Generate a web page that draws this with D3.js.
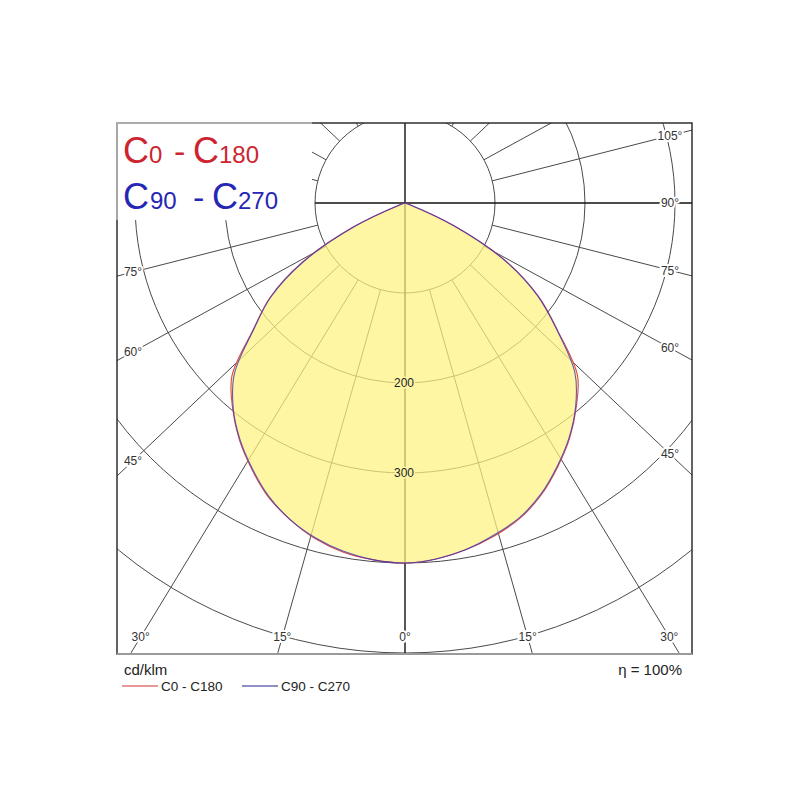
<!DOCTYPE html>
<html>
<head>
<meta charset="utf-8">
<script src="https://cdn.jsdelivr.net/npm/d3@7"></script>
<style>
	body { margin: 0; background: #fff; }
	svg { display: block; font-family: "Liberation Sans", Arial, sans-serif; }
</style>
</head>
<body>
<div id="chart"></div>
<script>
// gamma angles in degrees, 0 = straight down
const gammas = [0, 5, 10, 15, 20, 25, 30, 35, 40, 45, 50, 55, 60, 65, 70, 75, 80, 85, 90];

// luminous intensity in cd/klm for each half plane
const c0   = [400, 397, 391, 383, 373, 358, 339, 319, 296, 271, 222, 181, 130, 60, 5, 0, 0, 0, 0];
const c180 = [400, 398, 394, 386, 374, 360, 341, 321, 298, 272, 221, 183, 132, 64, 7, 0, 0, 0, 0];
const c90  = [400, 397, 391, 382, 372, 357, 338, 318, 295, 267, 221, 180, 129, 60, 5, 0, 0, 0, 0];
const c270 = [400, 398, 393, 385, 374, 359, 340, 320, 297, 268, 220, 182, 130, 62, 6, 0, 0, 0, 0];

// grid
const rings = [100, 200, 300, 400, 500];
const ringLabels = [200, 300];
const spokes = [15, 30, 45, 60, 75, 105, 120, 135, 150, 165];
const rightLabels = [0, 15, 30, 45, 60, 75, 90, 105];
const leftLabels = [15, 30, 45, 60, 75];

(function () {

	'use strict';

	let width = 800, height = 800;
	let frame = {left: 117, top: 123, right: 692, bottom: 654};
	let center = {x: 405, y: 203};
	let labelBox = {left: 133, right: 670, bottom: 637};
	let stretch = 1.055; // spokes in the source image are drawn a bit wide

	let r = d3.scaleLinear().domain([0, 500]).range([0, 450]);
	let rad = d3.scaleLinear().domain([0, 180]).range([0, Math.PI]);

	let svg = d3.select('#chart').append('svg')
		.attr('width', width)
		.attr('height', height);

	svg.append('defs').append('clipPath').attr('id', 'frameClip')
		.append('rect')
		.attr('x', frame.left).attr('y', frame.top)
		.attr('width', frame.right - frame.left)
		.attr('height', frame.bottom - frame.top);

	let clipped = svg.append('g').attr('clip-path', 'url(#frameClip)');
	let plot = clipped.append('g')
		.attr('transform', 'translate(' + center.x + ',' + center.y + ')');

	// unit direction of a spoke, side = 1 right, -1 left
	function spokeDir(deg, side) {
		let a = rad(deg);
		let dx = side * stretch * Math.sin(a);
		let dy = Math.cos(a);
		let n = Math.hypot(dx, dy);
		return [dx / n, dy / n];
	}

	// ****************** grid ***************************

	plot.selectAll('circle.ring')
		.data(rings)
		.enter().append('circle')
		.attr('class', 'ring')
		.attr('r', d => r(d))
		.attr('fill', 'none')
		.attr('stroke', '#4a4a4a')
		.attr('stroke-width', 1);

	let spokeData = [];
	spokes.forEach(function (g) {
		spokeData.push({g: g, side: 1});
		spokeData.push({g: g, side: -1});
	});

	plot.selectAll('line.spoke')
		.data(spokeData)
		.enter().append('line')
		.attr('class', 'spoke')
		.attr('x1', d => spokeDir(d.g, d.side)[0] * r(100))
		.attr('y1', d => spokeDir(d.g, d.side)[1] * r(100))
		.attr('x2', d => spokeDir(d.g, d.side)[0] * 1200)
		.attr('y2', d => spokeDir(d.g, d.side)[1] * 1200)
		.attr('stroke', '#4a4a4a')
		.attr('stroke-width', 1);

	// main axes
	plot.append('line')
		.attr('x1', 0).attr('y1', -1000).attr('x2', 0).attr('y2', 1000)
		.attr('stroke', '#111').attr('stroke-width', 1.4);
	plot.append('line')
		.attr('x1', -r(100)).attr('y1', 0).attr('x2', 1000).attr('y2', 0)
		.attr('stroke', '#111').attr('stroke-width', 1.4);

	// ****************** curves ***************************

	function planePoints(right, left) {
		let pts = [];
		for (let i = gammas.length - 1; i >= 0; i--) {
			pts.push([Math.PI + rad(gammas[i]), r(left[i])]);
		}
		for (let i = 1; i < gammas.length; i++) {
			pts.push([Math.PI - rad(gammas[i]), r(right[i])]);
		}
		return pts;
	}

	let radial = d3.lineRadial()
		.angle(d => d[0])
		.radius(d => d[1])
		.curve(d3.curveCatmullRom.alpha(0.5));

	let redPts = planePoints(c0, c180);
	let bluePts = planePoints(c90, c270);

	plot.append('path')
		.attr('d', radial(redPts) + 'Z')
		.attr('fill', '#fff380')
		.attr('fill-opacity', 0.72);

	plot.append('path')
		.attr('d', radial(redPts))
		.attr('fill', 'none')
		.attr('stroke', '#e04848')
		.attr('stroke-width', 1.1);

	plot.append('path')
		.attr('d', radial(bluePts))
		.attr('fill', 'none')
		.attr('stroke', '#3a3ab8')
		.attr('stroke-opacity', 0.8)
		.attr('stroke-width', 1.1);

	plot.selectAll('text.ringLabel')
		.data(ringLabels)
		.enter().append('text')
		.attr('class', 'ringLabel')
		.attr('x', -1)
		.attr('y', d => r(d))
		.attr('dy', '0.35em')
		.attr('text-anchor', 'middle')
		.attr('font-size', 12)
		.attr('fill', '#222')
		.attr('stroke', '#fff6a6')
		.attr('stroke-width', 3)
		.attr('paint-order', 'stroke')
		.text(d => d);

	// ****************** legend box and frame ***************************

	svg.append('rect')
		.attr('x', frame.left).attr('y', frame.top)
		.attr('width', 195).attr('height', 97)
		.attr('fill', '#fff');

	svg.append('rect')
		.attr('x', frame.left).attr('y', frame.top)
		.attr('width', frame.right - frame.left)
		.attr('height', frame.bottom - frame.top)
		.attr('fill', 'none')
		.attr('stroke', '#222')
		.attr('stroke-width', 1.4);

	svg.append('line')
		.attr('x1', frame.left).attr('y1', frame.bottom)
		.attr('x2', frame.right).attr('y2', frame.bottom)
		.attr('stroke', '#9a9a9a').attr('stroke-width', 2);

	svg.append('path')
		.attr('d', 'M' + frame.left + ',' + (frame.top + 97) + 'V' + frame.top + 'H' + (frame.left + 195))
		.attr('fill', 'none')
		.attr('stroke', '#c4c4c4')
		.attr('stroke-width', 1.4);

	// ****************** angle labels ***************************

	function labelPos(deg, side) {
		let d = spokeDir(deg, side);
		let lim = (side > 0 ? labelBox.right : labelBox.left) - center.x;
		let t = d[0] !== 0 ? lim / d[0] : Infinity;
		if (d[1] > 0) t = Math.min(t, (labelBox.bottom - center.y) / d[1]);
		return [center.x + d[0] * t, center.y + d[1] * t];
	}

	let angleLabels = rightLabels.map(g => ({g: g, side: 1}))
		.concat(leftLabels.map(g => ({g: g, side: -1})));

	svg.selectAll('text.angle')
		.data(angleLabels)
		.enter().append('text')
		.attr('class', 'angle')
		.attr('x', d => labelPos(d.g, d.side)[0])
		.attr('y', d => labelPos(d.g, d.side)[1])
		.attr('dy', '0.35em')
		.attr('text-anchor', 'middle')
		.attr('font-size', 12)
		.attr('fill', '#333')
		.attr('stroke', '#fff')
		.attr('stroke-width', 4)
		.attr('paint-order', 'stroke')
		.text(d => d.g + '\u00b0');

	// ****************** titles ***************************

	let titles = [
		{y: 163, color: '#cc2530', parts: [['C', 36, 123], ['0', 24, 149], ['-', 34, 174], ['C', 36, 193], ['180', 24, 219]]},
		{y: 209, color: '#2626b4', parts: [['C', 36, 123], ['90', 24, 150], ['-', 34, 193], ['C', 36, 212], ['270', 24, 238]]}
	];

	titles.forEach(function (t) {
		let txt = svg.append('text').attr('y', t.y).attr('fill', t.color);
		t.parts.forEach(function (p) {
			txt.append('tspan')
				.attr('x', p[2])
				.attr('font-size', p[1])
				.text(p[0]);
		});
	});

	// ****************** bottom legend ***************************

	svg.append('text')
		.attr('x', 124).attr('y', 675)
		.attr('font-size', 15).attr('fill', '#222')
		.text('cd/klm');

	svg.append('text')
		.attr('x', 682).attr('y', 675)
		.attr('text-anchor', 'end')
		.attr('font-size', 15).attr('fill', '#222')
		.text('\u03b7 = 100%');

	let keys = [
		{label: 'C0 - C180', color: '#d43030', x: 122},
		{label: 'C90 - C270', color: '#22228a', x: 242}
	];

	let key = svg.selectAll('g.key')
		.data(keys)
		.enter().append('g')
		.attr('class', 'key')
		.attr('transform', d => 'translate(' + d.x + ',686)');

	key.append('line')
		.attr('x1', 0).attr('x2', 36)
		.attr('stroke', d => d.color)
		.attr('stroke-width', 1.2);

	key.append('text')
		.attr('x', 39)
		.attr('dy', '0.35em')
		.attr('font-size', 13.5)
		.attr('fill', '#222')
		.text(d => d.label);

})();
</script>
</body>
</html>
